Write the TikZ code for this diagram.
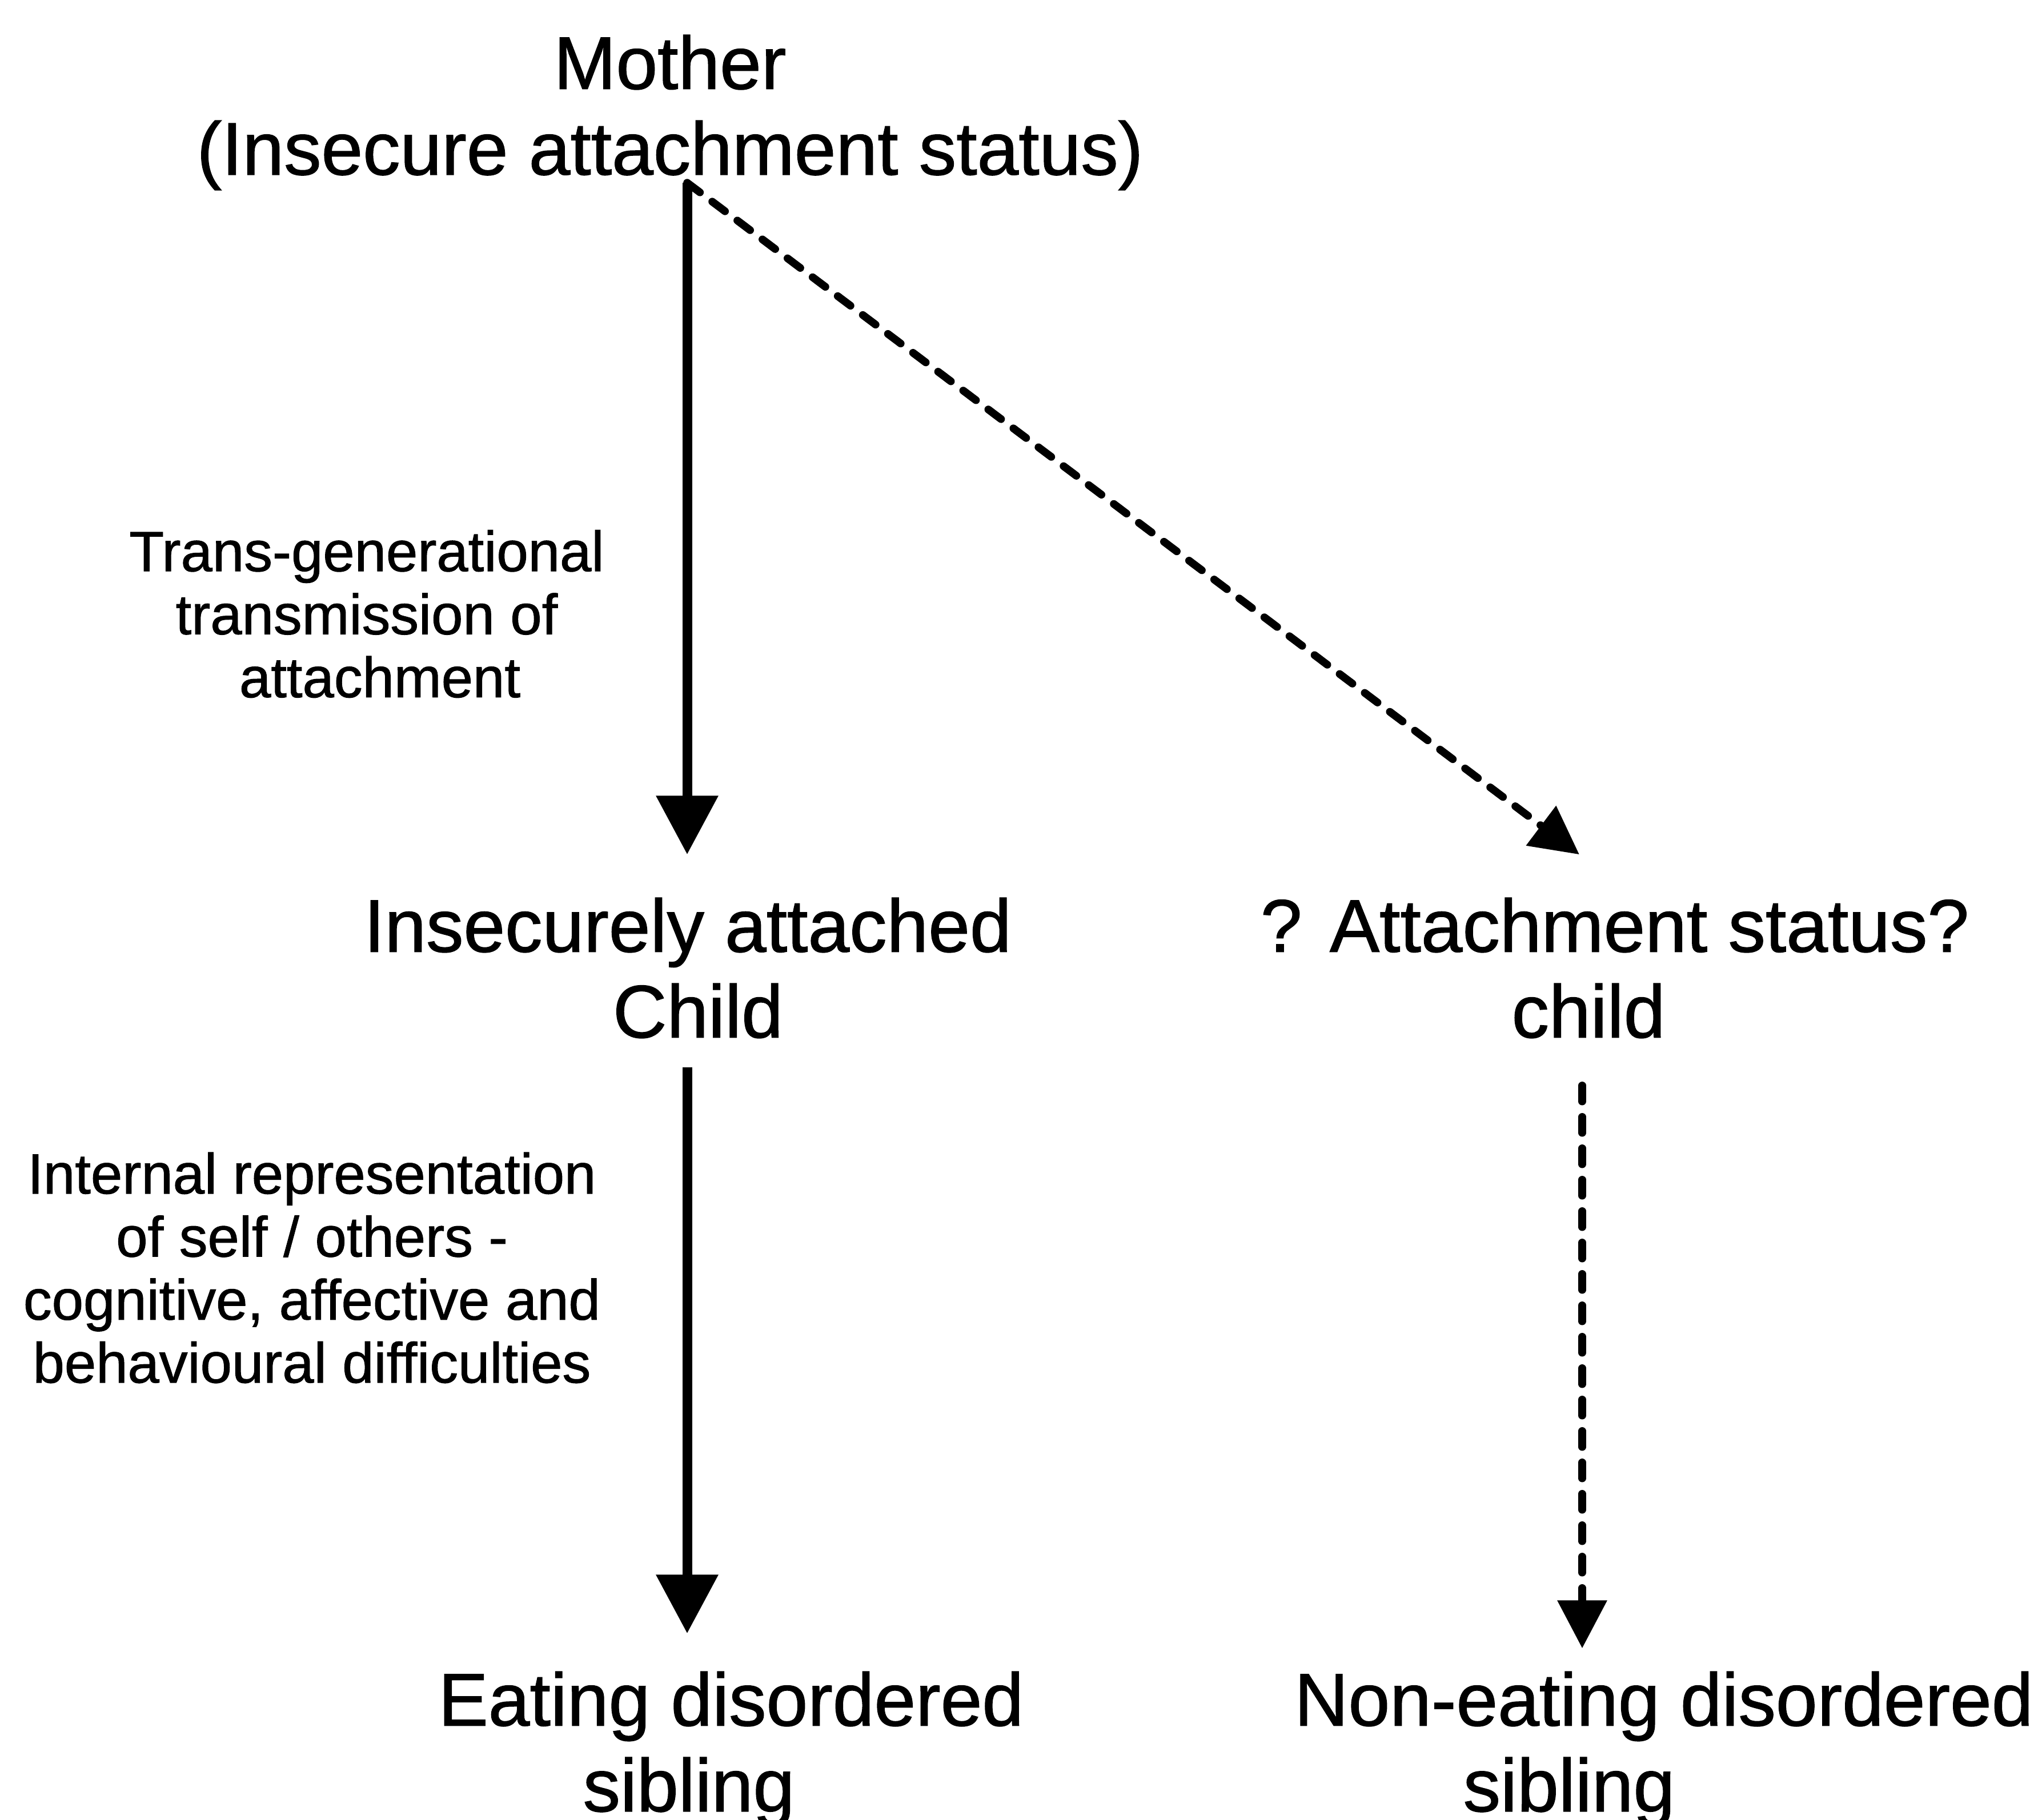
\documentclass[tikz,border=0pt]{standalone}
\usepackage{fontspec}
\setmainfont{Liberation Sans}[FakeBold=1]
\usetikzlibrary{arrows.meta, positioning, calc}

\begin{document}
\begin{tikzpicture}[
    big/.style={align=center, inner sep=0pt, font=\fontsize{37.2}{42.7}\selectfont},
    note/.style={align=center, inner sep=0pt, font=\fontsize{28.3}{31.4}\selectfont},
    solidarrow/.style={-{Triangle[length=1.03cm, width=1.05cm]}, line width=0.17cm},
    dasharrow/.style={-{Triangle[length=0.84cm, width=0.84cm]}, line width=0.135cm, line cap=round, dash pattern=on 0.28cm off 0.27cm}
]
    \useasboundingbox (0,0) rectangle (35.68,-31.86);

    % Mother at the top
    \node[big] (mother) at (11.73,-1.97) {Mother\\(Insecure attachment status)};

    % The two children
    \node[big] (ichild) at (12.04,-16.95) {Insecurely attached\\\hspace*{0.36cm}Child};
    \node[big] (qchild) at (28.27,-16.95) {? Attachment status?\\child\hspace*{0.92cm}};

    % The two siblings
    \node[big] (edsib) at (12.80,-30.63) {Eating disordered\\sibling\hspace*{1.48cm}};
    \node[big] (nesib) at (29.13,-30.63) {Non-eating disordered\\sibling\hspace*{3.32cm}};

    % Side labels
    \node[note] (transmit) at (6.42,-10.75) {Trans-generational\\transmission of\\\hspace*{0.46cm}attachment};
    \node[note] (inrep) at (5.46,-22.20) {Internal representation\\of self / others -\\cognitive, affective and\\behavioural difficulties};

    % --- Connectors ---
    \coordinate (split) at (12.03,-3.20);
    \coordinate (rx) at (27.70,0);

    % Mother to children
    \draw [solidarrow, shorten >=0.75cm] (split) -- (ichild.north -| split);
    \draw [dasharrow] (split) -- ($(qchild.north)+(-0.62,0.75)$);

    % Children to siblings
    \draw [solidarrow, shorten <=0.5cm, shorten >=0.66cm] (ichild.south -| split) -- (edsib.north -| split);
    \draw [dasharrow, shorten <=0.82cm, shorten >=0.40cm] (qchild.south -| rx) -- (nesib.north -| rx);

\end{tikzpicture}
\end{document}
